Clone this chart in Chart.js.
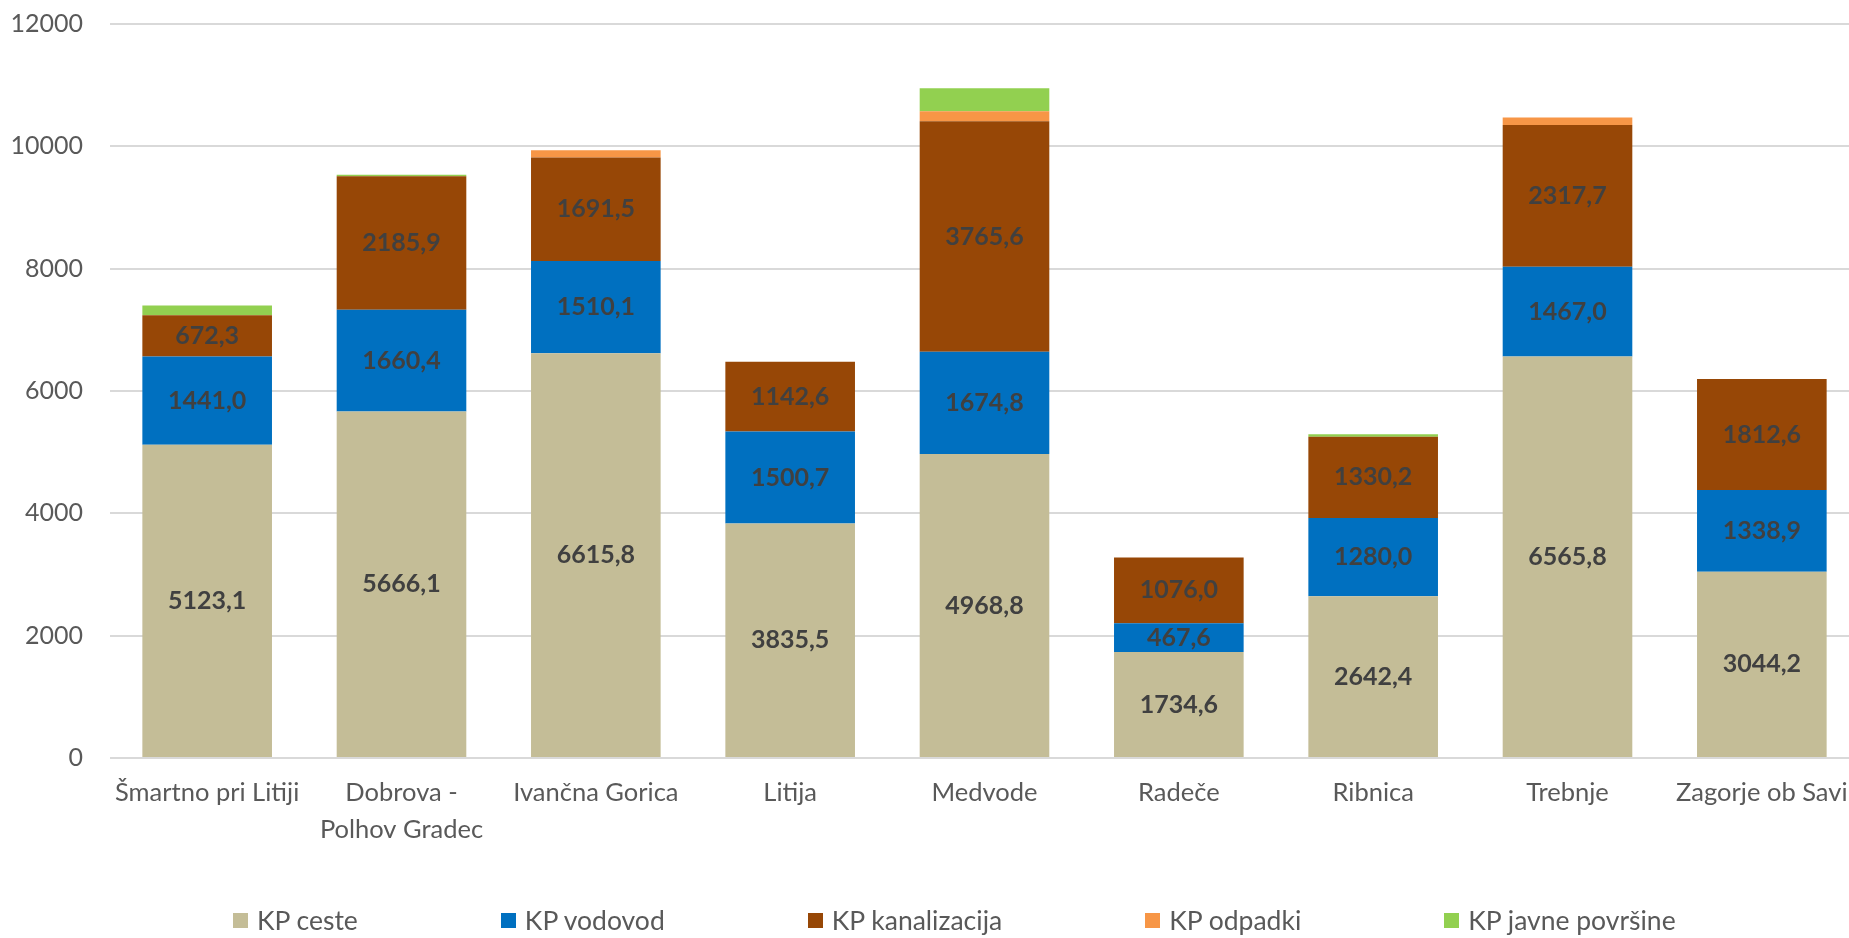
<!DOCTYPE html>
<html lang="sl">
<head>
  <meta charset="UTF-8">
  <title>KP po občinah</title>
  <script src="https://cdn.jsdelivr.net/npm/chart.js"></script>
  <style>
    * { margin: 0; padding: 0; box-sizing: border-box; }
    body {
      width: 1849px;
      height: 938px;
      overflow: hidden;
      background: #fff;
      font-family: 'Lato', sans-serif;
    }
    /* chart is a bit larger than the window: top and last bar are cut like in the source */
    .chart-box {
      position: absolute;
      left: 0;
      top: -18px;
      width: 1880px;
      height: 956px;
    }
    .legend {
      position: absolute;
      left: 233px;
      top: 904px;
      display: flex;
      gap: 143px;
      font-size: 26.5px;
      color: #595959;
      white-space: nowrap;
    }
    .legend span {
      display: flex;
      align-items: center;
      gap: 9px;
    }
    .legend i {
      display: inline-block;
      width: 15px;
      height: 15px;
    }
  </style>
</head>
<body>
  <div class="chart-box">
    <canvas id="chart"></canvas>
  </div>
  <div class="legend" id="legend"></div>

  <script>
    // categories (municipalities)
    const obcine = [
      'Šmartno pri Litiji', ['Dobrova -', 'Polhov Gradec'], 'Ivančna Gorica', 'Litija',
      'Medvode', 'Radeče', 'Ribnica', 'Trebnje', 'Zagorje ob Savi'
    ];

    // series
    const kpCeste = [5123.1, 5666.1, 6615.8, 3835.5, 4968.8, 1734.6, 2642.4, 6565.8, 3044.2];
    const kpVodovod = [1441.0, 1660.4, 1510.1, 1500.7, 1674.8, 467.6, 1280.0, 1467.0, 1338.9];
    const kpKanalizacija = [672.3, 2185.9, 1691.5, 1142.6, 3765.6, 1076.0, 1330.2, 2317.7, 1812.6];
    const kpOdpadki = [0, 0, 120, 0, 165, 0, 0, 120, 0];       // no labels
    const kpJavne = [160, 25, 0, 0, 375, 0, 40, 0, 0];         // no labels

    const seriesNames = ['KP ceste', 'KP vodovod', 'KP kanalizacija', 'KP odpadki', 'KP javne površine'];
    const seriesColors = ['#C4BD97', '#0070C0', '#974706', '#F79646', '#92D050'];
    const seriesData = [kpCeste, kpVodovod, kpKanalizacija, kpOdpadki, kpJavne];
    const labelled = [true, true, true, false, false];

    // y axis ticks
    const yMin = 0;
    const yMax = 12000;
    const yStep = 2000;

    const FONT = 'Lato';

    // draws the value inside each labelled segment (Excel style, decimal comma)
    const segmentLabels = {
      id: 'segmentLabels',
      afterDatasetsDraw(chart) {
        const ctx = chart.ctx;
        ctx.save();
        ctx.font = 'bold 25px ' + FONT;
        ctx.fillStyle = '#404040';
        ctx.textAlign = 'center';
        ctx.textBaseline = 'middle';
        chart.data.datasets.forEach((ds, i) => {
          if (!labelled[i]) return;
          chart.getDatasetMeta(i).data.forEach((bar, j) => {
            const v = ds.data[j];
            if (!v) return;
            ctx.fillText(v.toFixed(1).replace('.', ','), bar.x, (bar.y + bar.base) / 2);
          });
        });
        ctx.restore();
      }
    };

    const ctx = document.getElementById('chart').getContext('2d');
    new Chart(ctx, {
      type: 'bar',
      data: {
        labels: obcine,
        datasets: seriesData.map((d, i) => ({
          label: seriesNames[i],
          data: d,
          backgroundColor: seriesColors[i],
          borderWidth: 0,
          categoryPercentage: 0.667,
          barPercentage: 1.0
        }))
      },
      options: {
        responsive: true,
        maintainAspectRatio: false,
        animation: false,
        layout: { padding: { top: 9, right: 21, left: 0, bottom: 0 } },
        plugins: {
          legend: { display: false },
          tooltip: { enabled: false }
        },
        scales: {
          x: {
            stacked: true,
            grid: { display: false },
            border: { display: false },
            ticks: {
              color: '#595959',
              font: { family: FONT, size: 25.5, lineHeight: 1.42 },
              padding: 9,
              maxRotation: 0,
              autoSkip: false
            },
            afterFit(scale) { scale.height = 180; }
          },
          y: {
            stacked: true,
            min: yMin,
            max: yMax,
            grid: { color: '#D9D9D9', lineWidth: 2, drawTicks: false },
            border: { display: false },
            ticks: {
              stepSize: yStep,
              color: '#595959',
              font: { family: FONT, size: 25 },
              padding: 27,
              callback: v => String(v)
            },
            afterFit(scale) { scale.width = 110; }
          }
        }
      },
      plugins: [segmentLabels]
    });

    // legend as plain html row under the chart
    const legend = document.getElementById('legend');
    seriesNames.forEach((name, i) => {
      const item = document.createElement('span');
      item.innerHTML = '<i style="background:' + seriesColors[i] + '"></i>' + name;
      legend.appendChild(item);
    });
  </script>
</body>
</html>
